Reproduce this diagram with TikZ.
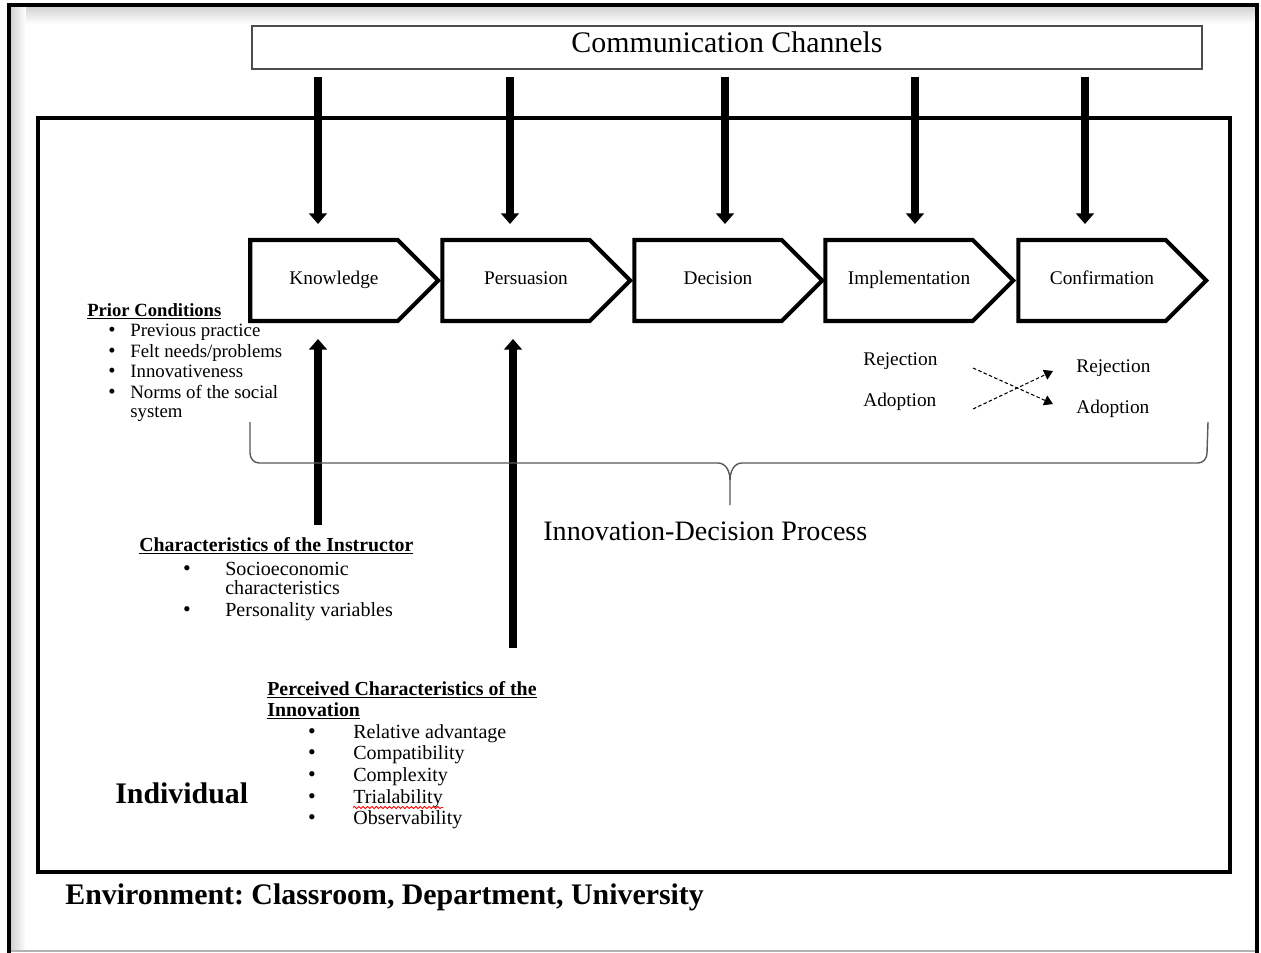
\documentclass[tikz,border=0pt]{standalone}
\usepackage{fontspec}
\setmainfont{Liberation Serif}
\usetikzlibrary{arrows.meta,shapes.symbols,decorations.pathmorphing}
\frenchspacing

\tikzset{
  stage/.style={draw, line width=2.3pt, signal, signal to=east, signal pointer angle=90,
    minimum width=3.76cm, minimum height=1.62cm, inner sep=0pt,
    font=\fontsize{11}{13}\selectfont, text height=1.6ex, text depth=0.5ex,
    execute at begin node=\hspace*{0.4cm}},
  chan/.style={line width=4pt, -{Triangle[width=10pt,length=6pt]}},
  head/.style={anchor=base west, inner sep=0pt, font=\fontsize{11.3}{13}\selectfont\bfseries},
  item/.style={anchor=base west, inner sep=0pt, font=\fontsize{11.4}{13}\selectfont},
  dot/.style={anchor=base, inner sep=0pt, font=\fontsize{12.5}{13}\selectfont},
  choice/.style={anchor=base west, inner sep=0pt, font=\fontsize{11}{13}\selectfont},
  turnline/.style={dash pattern=on 2pt off 1.3pt, line width=0.6pt, -{Triangle[width=6pt,length=5pt]}},
  big/.style={anchor=base west, inner sep=0pt, font=\fontsize{17}{20}\selectfont\bfseries}
}

\begin{document}
\begin{tikzpicture}[x=0.02cm, y=-0.02cm]
\useasboundingbox (0,0) rectangle (1261,953);
\fill[white] (0,0) rectangle (1261,953);

\shade[top color=gray!35, bottom color=white] (11,7) rectangle (1255,24);
\shade[left color=gray!35, right color=white] (11,7) rectangle (26,951);
\draw[gray!60, line width=0.6pt] (9,951) -- (1257,951);
\draw[line width=2pt] (9,953) -- (9,5) -- (1257,5) -- (1257,953);

\draw[line width=2.4pt] (38,118) rectangle (1230,872);

\node[draw=gray!60!black, line width=0.8pt, minimum width=19cm, minimum height=0.86cm,
  inner sep=0pt, text depth=0.2cm, font=\fontsize{17}{20}\selectfont] (comm) at (727,47.5) {Communication Channels};

\node[stage] (know) at (324,280.5) {Knowledge};
\node[stage] (pers) at (516,280.5) {Persuasion};
\node[stage] (deci) at (708,280.5) {Decision};
\node[stage] (impl) at (899,280.5) {Implementation};
\node[stage] (conf) at (1092,280.5) {Confirmation};

\foreach \x [count=\i] in {318,510,725,915,1085} {
  \coordinate (ct\i) at (\x,77);
  \coordinate (cb\i) at (\x,224);
  \draw[chan] (ct\i) -- (cb\i);
}

\coordinate (insb) at (318,525);
\coordinate (inst) at (318,339);
\draw[chan] (insb) -- (inst);
\coordinate (innb) at (513,648);
\coordinate (innt) at (513,339);
\draw[chan] (innb) -- (innt);

\node[head, font=\fontsize{10.6}{13}\selectfont\bfseries] (prior) at (87,316) {\underline{Prior Conditions}};
\foreach \t [count=\i] in {Previous practice, Felt needs/problems, Innovativeness, Norms of the social} {
  \node[dot, font=\fontsize{11.8}{13}\selectfont] (pd\i) at (112,316+20.5*\i) {\textbullet};
  \node[item, font=\fontsize{10.7}{13}\selectfont] (pc\i) at (130,316+20.5*\i) {\t};
}
\node[item, font=\fontsize{10.7}{13}\selectfont] (pc5) at (130,417) {system};

\node[head] (instr) at (139,551) {\underline{Characteristics of the Instructor}};
\node[dot] (id1) at (187,575) {\textbullet};
\node[item] (ic1) at (225,575) {Socioeconomic};
\node[item] (ic1b) at (225,594) {characteristics};
\node[dot] (id2) at (187,616) {\textbullet};
\node[item] (ic2) at (225,616) {Personality variables};

\node[head] (perc) at (267,695) {\underline{Perceived Characteristics of the}};
\node[head] (perc2) at (267,716) {\underline{Innovation}};
\foreach \t [count=\i] in {Relative advantage, Compatibility, Complexity, Trialability, Observability} {
  \node[dot] (qd\i) at (312,716.3+21.7*\i) {\textbullet};
  \node[item] (qc\i) at (353,716.3+21.7*\i) {\t};
}
\draw[red, line width=0.5pt, decorate, decoration={snake, amplitude=0.6pt, segment length=2.5pt}]
  ([yshift=-2.5pt]qc4.base west) -- ([yshift=-2.5pt]qc4.base east);

\node[choice] (rej1) at (863,365) {Rejection};
\node[choice] (ado1) at (863,406) {Adoption};
\node[choice] (rej2) at (1076,372) {Rejection};
\node[choice] (ado2) at (1076,413) {Adoption};
\coordinate (s1) at (973,368);
\coordinate (e1) at (1053,404);
\coordinate (s2) at (973,409);
\coordinate (e2) at (1053,371);
\draw[turnline] (s1) -- (e1);
\draw[turnline] (s2) -- (e2);

\draw[gray!70!black, line width=0.8pt] (250,422) -- (250,453) to[out=-90,in=180] (259,463) -- (718,463)
  to[out=0,in=90] (730,480) -- (730,505);
\draw[gray!70!black, line width=0.8pt] (730,480) to[out=90,in=180] (742,463) -- (1198,463)
  to[out=0,in=-90] (1207,453) -- (1208,422);

\node[anchor=base west, inner sep=0pt, font=\fontsize{16}{19}\selectfont] (idp) at (543,540) {Innovation-Decision Process};

\node[big] (indiv) at (115,803) {Individual};
\node[big] (env) at (65,904) {Environment: Classroom, Department, University};
\end{tikzpicture}
\end{document}
